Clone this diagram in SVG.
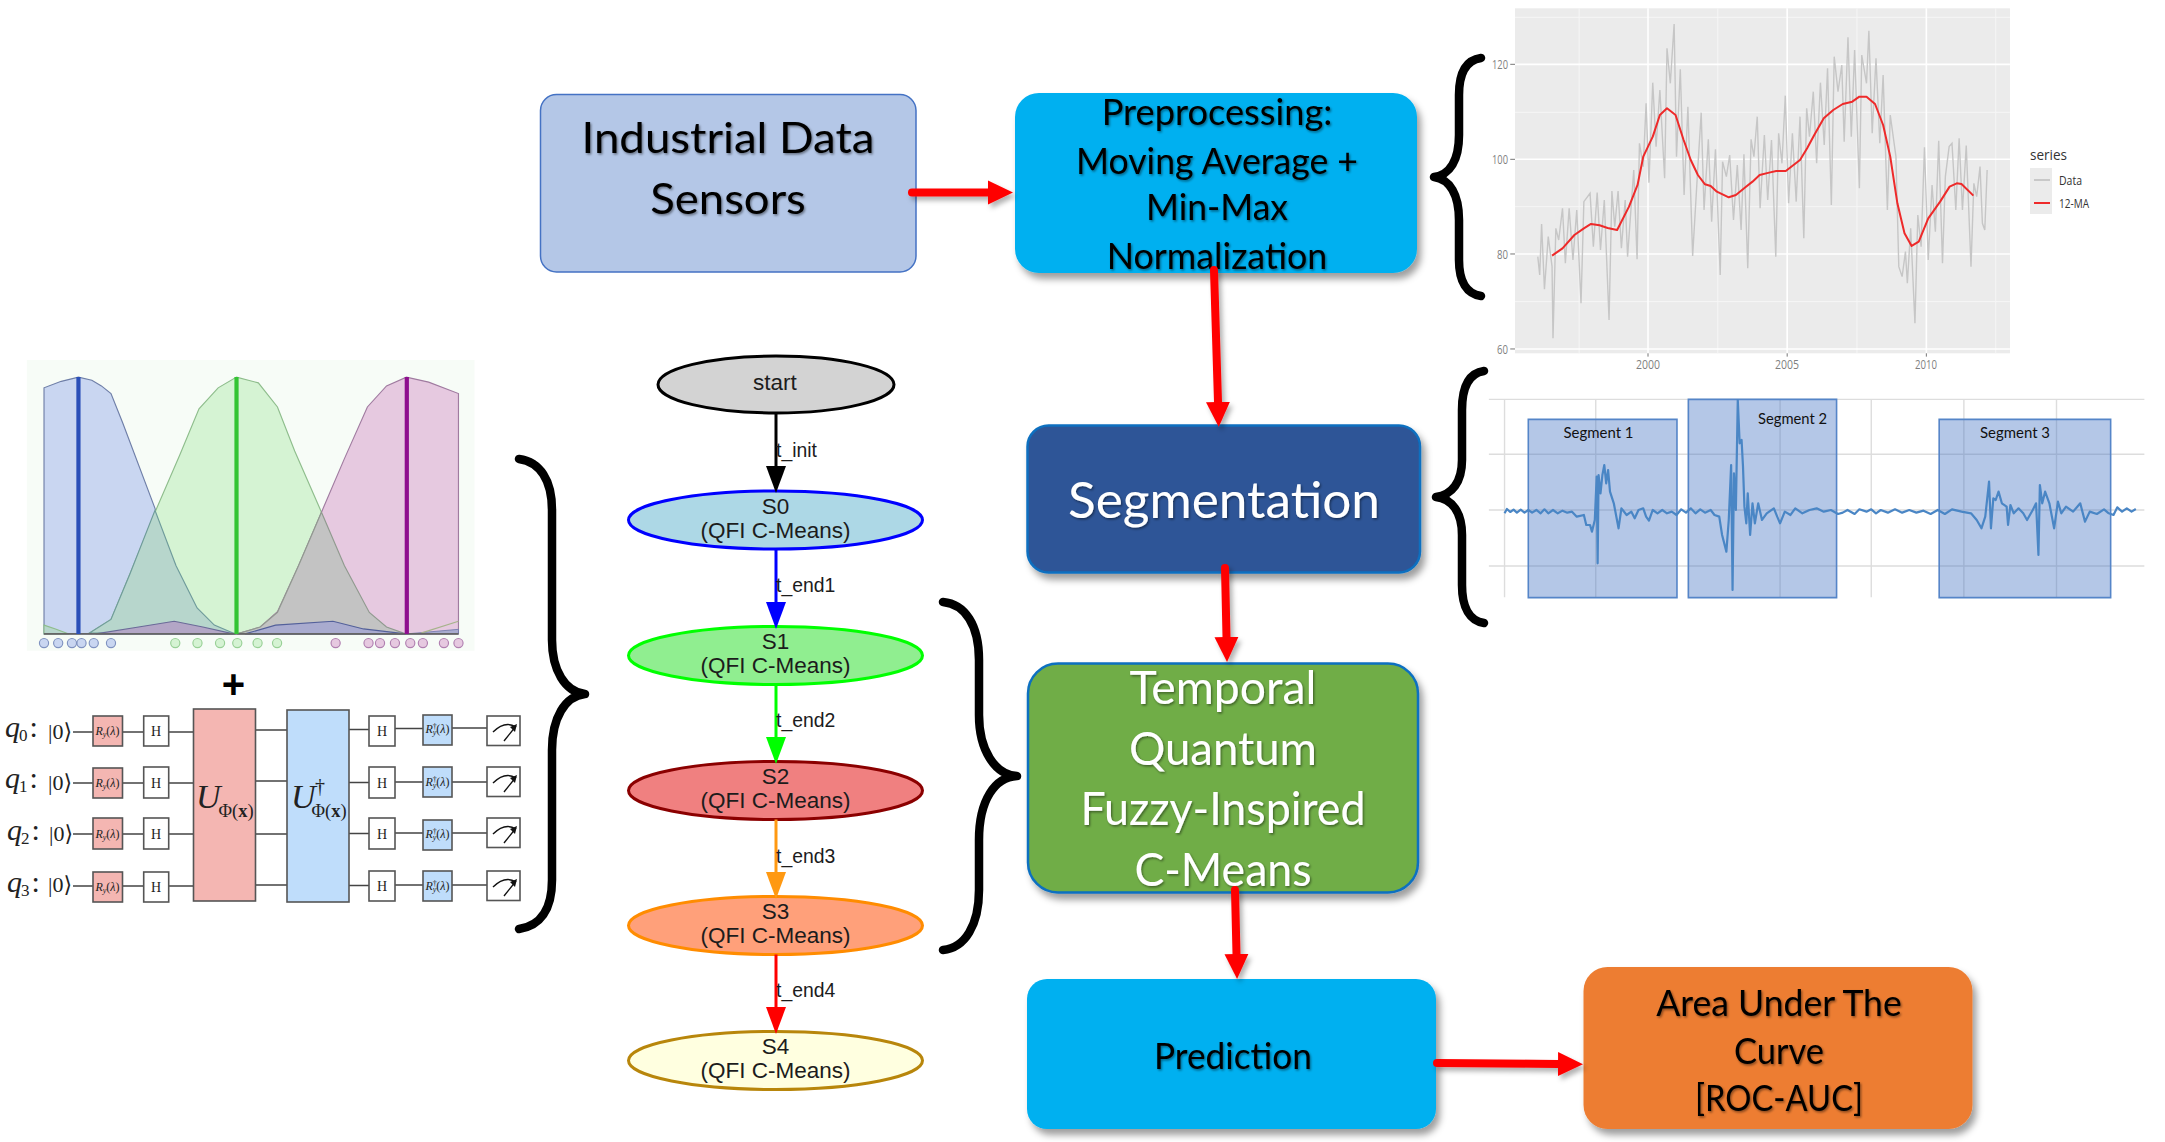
<svg xmlns="http://www.w3.org/2000/svg" width="2165" height="1142" viewBox="0 0 2165 1142">
<defs>
<style>
svg{font-family:"Liberation Sans",Arial,sans-serif}
.box{font-family:Lato,"Liberation Sans",sans-serif;text-anchor:middle;fill:#000}
.w{fill:#fff}
.st{font-size:22.500px;text-anchor:middle;fill:#1c1c1c}
.el{font-size:19.400px;fill:#1c1c1c}
.brace{fill:none;stroke:#000;stroke-width:8.500;stroke-linecap:round;stroke-linejoin:round}
.red{fill:none;stroke:#f00;stroke-width:8;stroke-linecap:round;marker-end:url(#mr)}
.edge{fill:none;stroke-width:3}
.ns{vector-effect:non-scaling-stroke}
.wire{stroke:#444;stroke-width:1.500;fill:none}
.gate{stroke:#555;stroke-width:1.600}
.pk{fill:#f4b6b2}.bl{fill:#bfddfb}.wh{fill:#fff}
.ser{font-family:"Liberation Serif","DejaVu Serif",serif;fill:#222}
.ax{font-family:"Open Sans","Liberation Sans",sans-serif;font-size:12px;fill:#7f7f7f}
.gmaj{stroke:#fff;stroke-width:1.600;fill:none}
.gmin{stroke:#f6f6f6;stroke-width:1;fill:none}
.sgrid{stroke:#ddd;stroke-width:1.400;fill:none}
.seg{fill:#4472c4;fill-opacity:.4;stroke:#5585c8;stroke-width:1.600}
.segt{font-family:Lato,"Liberation Sans",sans-serif;font-size:15px;text-anchor:middle;fill:#111}
.dot{stroke-width:3}
</style>
<filter id="sh" x="-10%" y="-10%" width="125%" height="130%"><feDropShadow dx="4" dy="6" stdDeviation="3.500" flood-color="#000" flood-opacity=".38"/></filter>
<filter id="ash" x="-40%" y="-40%" width="200%" height="200%"><feDropShadow dx="3" dy="4" stdDeviation="2.500" flood-color="#000" flood-opacity=".3"/></filter>
<filter id="ts" x="-5%" y="-10%" width="110%" height="125%"><feDropShadow dx="1.200" dy="1.500" stdDeviation=".8" flood-color="#000" flood-opacity=".45"/></filter>
<marker id="mr" markerUnits="userSpaceOnUse" markerWidth="27" markerHeight="26" refX="0" refY="13" orient="auto"><path d="M0,1 25,13 0,25Z" fill="#f00"/></marker>
<marker id="mk" markerUnits="userSpaceOnUse" markerWidth="28" markerHeight="22" refX="0" refY="11" orient="auto"><path d="M0,1 27,11 0,21Z" fill="#000"/></marker>
<marker id="mb" markerUnits="userSpaceOnUse" markerWidth="28" markerHeight="22" refX="0" refY="11" orient="auto"><path d="M0,1 27,11 0,21Z" fill="#00f"/></marker>
<marker id="mg" markerUnits="userSpaceOnUse" markerWidth="28" markerHeight="22" refX="0" refY="11" orient="auto"><path d="M0,1 27,11 0,21Z" fill="#0f0"/></marker>
<marker id="mo" markerUnits="userSpaceOnUse" markerWidth="28" markerHeight="22" refX="0" refY="11" orient="auto"><path d="M0,1 27,11 0,21Z" fill="#ff9912"/></marker>
<marker id="mf" markerUnits="userSpaceOnUse" markerWidth="28" markerHeight="22" refX="0" refY="11" orient="auto"><path d="M0,1 27,11 0,21Z" fill="#f00"/></marker>
</defs>
<rect width="2165" height="1142" fill="#fff"/>

<!-- fuzzy membership plot -->
<g id="fuzzy-plot">
<g transform="translate(0,340) scale(.3827)">
<rect x="70" y="52" width="1170" height="760" fill="#f7fcf7"/>
<path d="M115,768V125L160,108 205,97 240,105 265,120 290,140 320,215 405,440 460,590 515,700 560,745 615,768Z" fill="#c9d6f1" stroke="#6f7fa8" stroke-width="3"/>
<path d="M235,765 290,730 340,610 405,450 470,300 520,180 570,125 618,97 675,112 725,175 770,290 840,450 900,590 965,710 1010,750 1060,768Z" fill="#d5f3d3" stroke="#8ebd8c" stroke-width="3"/>
<path d="M620,768 680,750 725,710 780,590 840,450 900,310 960,175 1010,120 1062,97 1120,110 1198,140V768Z" fill="#e6c9e0" stroke="#a07ba0" stroke-width="3"/>
<path d="M235,765 290,730 340,610 405,445 460,590 515,700 560,745 615,768Z" fill="#b7d6cc" stroke="#6f9b9b" stroke-width="3"/>
<path d="M620,768 680,750 725,712 780,590 840,450 900,590 965,712 1010,750 1060,768Z" fill="#c3c3c3" stroke="#909a8f" stroke-width="3"/>
<path d="M115,745 145,755 180,768H115Z" fill="#b7d6cc" stroke="#8ebd8c" stroke-width="3"/>
<path d="M250,768 350,752 455,735 530,750 610,768Z" fill="#b3a6c6" stroke="#6a6a98" stroke-width="3"/>
<path d="M640,768 720,745 870,735 950,755 1060,768Z" fill="#a9abcf" stroke="#53609a" stroke-width="3"/>
<path d="M1062,768 1198,756V768Z" fill="#a9abcf" stroke="#6a72a8" stroke-width="2"/>
<path d="M1100,766 1198,735" fill="none" stroke="#a6b38a" stroke-width="3"/>
<path d="M115,768H1198" stroke="#666" stroke-width="5"/>
<path d="M205,97V768" stroke="#2a4fb8" stroke-width="11"/>
<path d="M618,97V768" stroke="#33c433" stroke-width="11"/>
<path d="M1063,97V768" stroke="#8e0f8e" stroke-width="11"/>
<g fill="#c9d6f1" stroke="#7f92c0" class="dot"><circle cx="115" cy="792" r="12"/><circle cx="152" cy="792" r="12"/><circle cx="188" cy="792" r="12"/><circle cx="213" cy="792" r="12"/><circle cx="245" cy="792" r="12"/><circle cx="290" cy="792" r="12"/></g>
<g fill="#d5f3d3" stroke="#98d096" class="dot"><circle cx="458" cy="792" r="12"/><circle cx="516" cy="792" r="12"/><circle cx="575" cy="792" r="12"/><circle cx="620" cy="792" r="12"/><circle cx="673" cy="792" r="12"/><circle cx="724" cy="792" r="12"/></g>
<g fill="#e6c9e0" stroke="#b07fb0" class="dot"><circle cx="877" cy="792" r="12"/><circle cx="963" cy="792" r="12"/><circle cx="993" cy="792" r="12"/><circle cx="1032" cy="792" r="12"/><circle cx="1072" cy="792" r="12"/><circle cx="1105" cy="792" r="12"/><circle cx="1160" cy="792" r="12"/><circle cx="1198" cy="792" r="12"/></g>
</g>
<text x="233.500" y="698" font-size="40" font-weight="bold" text-anchor="middle">+</text>
</g>

<!-- quantum circuit -->
<g id="quantum-circuit">
<g class="wire">
<path d="M73,732H193M73,783H193M73,834H193M73,886H193"/>
<path d="M255,730H287M255,781H287M255,834H287M255,885H287"/>
<path d="M349,729.500H369M395,728.500H423M452,728H487M349,782.500H369M395,782H423M452,782H487M349,833.500H369M395,833H423M452,833H487M349,885.500H369M395,885H423M452,885H487"/>
</g>
<g class="gate">
<rect class="pk" x="93" y="716" width="29.500" height="30"/><rect class="pk" x="93" y="768" width="29.500" height="30"/><rect class="pk" x="93" y="818" width="29.500" height="31"/><rect class="pk" x="93" y="872" width="29.500" height="30"/>
<rect class="wh" x="143.700" y="716" width="25" height="30"/><rect class="wh" x="143.700" y="767" width="25" height="31"/><rect class="wh" x="143.700" y="818" width="25" height="31"/><rect class="wh" x="143.700" y="872" width="25" height="30"/>
<rect class="pk" x="193.500" y="709" width="62" height="192"/>
<rect class="bl" x="287" y="710" width="62" height="192"/>
<rect class="wh" x="369" y="716" width="26" height="30"/><rect class="wh" x="369" y="767" width="26" height="31"/><rect class="wh" x="369" y="818" width="26" height="31"/><rect class="wh" x="369" y="871" width="26" height="30"/>
<rect class="bl" x="423" y="715" width="29" height="30"/><rect class="bl" x="423" y="767" width="29" height="30"/><rect class="bl" x="423" y="820" width="29" height="30"/><rect class="bl" x="423" y="871" width="29" height="30"/>
<rect class="wh" x="487" y="716" width="33" height="29.500"/><rect class="wh" x="487" y="767" width="33" height="29.500"/><rect class="wh" x="487" y="818" width="33" height="29.500"/><rect class="wh" x="487" y="871" width="33" height="29.500"/>
</g>
<g fill="none" stroke="#111" stroke-width="1.400">
<path d="M493,732Q505,720 516,727M504,741 516,726"/>
<path d="M493,783Q505,771 516,778M504,792 516,777"/>
<path d="M493,834Q505,822 516,829M504,843 516,828"/>
<path d="M493,887Q505,875 516,882M504,896 516,881"/>
</g>
<g fill="#111"><path d="M510,727 517,724 515,732Z"/><path d="M510,778 517,775 515,783Z"/><path d="M510,829 517,826 515,834Z"/><path d="M510,882 517,879 515,887Z"/></g>
<g class="ser" font-size="30" font-style="italic">
<text x="5" y="737">q<tspan font-size="17" font-style="normal" dx="-1" dy="4">0</tspan><tspan font-style="normal" dx="2" dy="-4">:</tspan></text>
<text x="5" y="788">q<tspan font-size="17" font-style="normal" dx="-1" dy="4">1</tspan><tspan font-style="normal" dx="2" dy="-4">:</tspan></text>
<text x="7" y="840">q<tspan font-size="17" font-style="normal" dx="-1" dy="4">2</tspan><tspan font-style="normal" dx="2" dy="-4">:</tspan></text>
<text x="7" y="892">q<tspan font-size="17" font-style="normal" dx="-1" dy="4">3</tspan><tspan font-style="normal" dx="2" dy="-4">:</tspan></text>
</g>
<g class="ser" font-size="22">
<text x="48" y="739">|0⟩</text><text x="48" y="790">|0⟩</text><text x="49" y="841">|0⟩</text><text x="48" y="892">|0⟩</text>
</g>
<g class="ser" font-size="12" text-anchor="middle">
<text x="107.500" y="735"><tspan font-style="italic">R</tspan><tspan font-size="8" dy="2" font-style="italic">y</tspan><tspan dy="-2">(</tspan><tspan font-style="italic">λ</tspan>)</text>
<text x="107.500" y="787"><tspan font-style="italic">R</tspan><tspan font-size="8" dy="2" font-style="italic">y</tspan><tspan dy="-2">(</tspan><tspan font-style="italic">λ</tspan>)</text>
<text x="107.500" y="838"><tspan font-style="italic">R</tspan><tspan font-size="8" dy="2" font-style="italic">y</tspan><tspan dy="-2">(</tspan><tspan font-style="italic">λ</tspan>)</text>
<text x="107.500" y="891"><tspan font-style="italic">R</tspan><tspan font-size="8" dy="2" font-style="italic">y</tspan><tspan dy="-2">(</tspan><tspan font-style="italic">λ</tspan>)</text>
<text x="437.500" y="733"><tspan font-style="italic">R</tspan><tspan font-size="8" dy="-4">†</tspan><tspan font-size="8" dx="-4" dy="6" font-style="italic">y</tspan><tspan dy="-2">(</tspan><tspan font-style="italic">λ</tspan>)</text>
<text x="437.500" y="786"><tspan font-style="italic">R</tspan><tspan font-size="8" dy="-4">†</tspan><tspan font-size="8" dx="-4" dy="6" font-style="italic">y</tspan><tspan dy="-2">(</tspan><tspan font-style="italic">λ</tspan>)</text>
<text x="437.500" y="838"><tspan font-style="italic">R</tspan><tspan font-size="8" dy="-4">†</tspan><tspan font-size="8" dx="-4" dy="6" font-style="italic">y</tspan><tspan dy="-2">(</tspan><tspan font-style="italic">λ</tspan>)</text>
<text x="437.500" y="890"><tspan font-style="italic">R</tspan><tspan font-size="8" dy="-4">†</tspan><tspan font-size="8" dx="-4" dy="6" font-style="italic">y</tspan><tspan dy="-2">(</tspan><tspan font-style="italic">λ</tspan>)</text>
</g>
<g class="ser" font-size="14" text-anchor="middle">
<text x="156" y="736">H</text><text x="156" y="788">H</text><text x="156" y="839">H</text><text x="156" y="892">H</text>
<text x="382" y="736">H</text><text x="382" y="788">H</text><text x="382" y="839">H</text><text x="382" y="891">H</text>
</g>
<g class="ser">
<text x="196" y="808" font-size="34" font-style="italic">U</text>
<text x="218.500" y="817" font-size="18.500">Φ(<tspan font-weight="bold">x</tspan>)</text>
<text x="291" y="808" font-size="34" font-style="italic">U</text>
<text x="315" y="793" font-size="20">†</text>
<text x="311.500" y="817" font-size="18.500">Φ(<tspan font-weight="bold">x</tspan>)</text>
</g>
</g>

<!-- data chart -->
<g id="ma-chart">
<g transform="translate(1420,0) scale(.475,.3333)">
<rect x="200" y="25" width="1042" height="1035" fill="#ebebeb"/>
<path class="gmin ns" d="M200,52H1242M200,337H1242M200,620H1242M200,905H1242M335,25V1060M627,25V1060M920,25V1060M1212,25V1060"/>
<path class="gmaj ns" d="M200,193H1242M200,478H1242M200,762H1242M200,1047H1242M480,25V1060M773,25V1060M1066,25V1060"/>
<path class="ns" fill="none" stroke="#777" stroke-width="1" d="M190,193H200M190,478H200M190,762H200M190,1047H200M480,1060V1070M773,1060V1070M1066,1060V1070"/>
<polyline class="ns" fill="none" stroke="#c6c6c6" stroke-width="1.400" points="248,770 252,825 256,672 262,868 270,710 278,800 280,1015 286,685 292,720 300,625 306,790 314,625 322,780 330,630 339,910 345,605 358,580 365,740 373,578 380,750 388,600 398,960 404,573 410,680 417,573 424,745 432,600 437,770 450,510 457,778 462,430 470,500 476,310 482,548 490,248 497,440 505,270 515,535 520,145 527,250 535,72 540,470 548,208 556,585 564,320 574,768 585,500 592,338 598,630 607,418 614,665 622,448 632,825 637,485 645,530 652,465 660,660 668,495 676,690 682,463 690,805 697,418 703,470 710,350 716,625 725,405 732,600 740,420 749,770 755,400 762,490 769,287 776,610 784,400 792,605 800,350 808,715 814,325 820,410 828,275 835,490 843,248 851,435 858,205 866,615 872,170 880,275 888,195 893,425 901,112 908,410 915,150 925,565 930,165 940,250 945,92 952,400 960,175 968,430 975,225 984,630 990,345 1002,470 1008,800 1015,830 1022,755 1026,850 1033,685 1042,970 1048,645 1055,740 1062,442 1070,780 1078,555 1085,695 1092,422 1100,790 1106,530 1114,440 1120,430 1128,630 1135,415 1142,630 1150,437 1160,800 1166,550 1172,590 1179,500 1184,670 1189,690 1194,510"/>
<polyline class="ns" fill="none" stroke="#ee2a2a" stroke-width="2" stroke-linejoin="round" points="278,767 300,745 325,705 345,685 360,672 378,676 395,684 415,690 440,620 458,555 470,470 490,410 505,345 520,325 538,345 555,420 570,480 585,525 600,553 612,558 625,575 650,592 665,585 685,562 700,545 715,525 735,518 750,513 770,513 800,480 815,445 830,405 850,355 870,330 890,312 910,305 925,290 940,290 958,312 975,375 990,470 1005,610 1020,700 1035,738 1050,725 1070,655 1095,605 1115,560 1130,550 1140,552 1165,587"/>
</g>
<g class="ax" text-anchor="end"><text x="1508" y="69" textLength="16" lengthAdjust="spacingAndGlyphs">120</text><text x="1508" y="164" textLength="16" lengthAdjust="spacingAndGlyphs">100</text><text x="1508" y="259" textLength="11" lengthAdjust="spacingAndGlyphs">80</text><text x="1508" y="354" textLength="11" lengthAdjust="spacingAndGlyphs">60</text></g>
<g class="ax" text-anchor="middle"><text x="1648" y="369" textLength="24" lengthAdjust="spacingAndGlyphs">2000</text><text x="1787" y="369" textLength="24" lengthAdjust="spacingAndGlyphs">2005</text><text x="1926" y="369" textLength="22" lengthAdjust="spacingAndGlyphs">2010</text></g>
<text x="2030" y="160" font-size="15" fill="#333" textLength="37" lengthAdjust="spacingAndGlyphs" style="font-family:'Open Sans',sans-serif">series</text>
<rect x="2030" y="168" width="22" height="46" fill="#ebebeb"/>
<path d="M2034,180H2050" stroke="#bdbdbd" stroke-width="1.500"/>
<path d="M2034,203H2050" stroke="#ee2a2a" stroke-width="2"/>
<text x="2059" y="185" font-size="12.500" fill="#333" textLength="23" lengthAdjust="spacingAndGlyphs" style="font-family:'Open Sans',sans-serif">Data</text>
<text x="2059" y="208" font-size="12.500" fill="#333" textLength="30" lengthAdjust="spacingAndGlyphs" style="font-family:'Open Sans',sans-serif">12-MA</text>
</g>

<!-- segments chart -->
<g id="segment-chart">
<g transform="translate(1420,360) scale(.475,.3333)">
<path class="sgrid ns" d="M145,118H1525M145,283H1525M145,450H1525M145,618H1525M178,118V712M370,118V712M565,118V712M758,118V712M950,118V712M1145,118V712M1340,118V712"/>
<rect class="seg ns" x="228" y="178" width="313" height="535"/>
<rect class="seg ns" x="565" y="118" width="312" height="595"/>
<rect class="seg ns" x="1093" y="178" width="361" height="535"/>
<polyline class="ns" fill="none" stroke="#4a86c5" stroke-width="2.200" stroke-linejoin="round" points="178,460 183,447 190,456 197,449 204,458 212,449 220,458 228,450 236,458 245,450 254,460 262,448 270,460 280,450 290,460 300,452 310,458 320,455 330,470 345,465 350,495 358,495 362,515 368,480 372,350 374,610 376,345 380,400 384,345 388,315 392,370 396,330 400,395 408,430 418,505 424,445 435,465 445,455 452,475 460,450 470,445 476,470 482,482 490,450 500,460 510,450 520,460 530,455 540,465 550,448 560,458 570,445 580,460 590,448 600,458 612,450 620,465 630,470 636,525 645,575 650,480 655,315 658,690 661,340 665,450 669,120 673,250 677,240 680,320 683,440 687,490 690,400 695,525 700,430 705,490 712,430 720,480 730,460 745,445 752,470 758,490 768,455 780,465 790,445 805,460 820,450 835,445 850,455 865,450 880,462 890,458 900,450 915,462 925,448 940,455 950,448 960,460 970,450 985,458 1000,448 1015,458 1030,450 1045,458 1060,452 1075,462 1090,450 1105,462 1120,448 1140,455 1160,460 1172,480 1182,505 1190,470 1198,365 1202,505 1207,415 1212,420 1218,395 1225,430 1235,440 1238,495 1243,435 1250,460 1260,445 1270,460 1278,480 1290,450 1297,430 1302,585 1305,375 1310,430 1316,395 1325,430 1335,505 1343,425 1350,460 1360,440 1375,455 1390,430 1400,485 1410,455 1425,462 1440,448 1450,460 1460,465 1468,442 1478,455 1488,445 1498,455 1507,447"/>
</g>
<text class="segt" x="1598.500" y="438" textLength="70" lengthAdjust="spacingAndGlyphs">Segment 1</text>
<text class="segt" x="1792.500" y="424" textLength="69" lengthAdjust="spacingAndGlyphs">Segment 2</text>
<text class="segt" x="2015" y="438" textLength="70" lengthAdjust="spacingAndGlyphs">Segment 3</text>
</g>

<!-- process nodes -->
<g id="node-sensors"><rect x="540.500" y="94.500" width="375.500" height="177.500" rx="16" fill="#b4c7e7" stroke="#4472c4" stroke-width="1.500"/>
<g class="box" font-size="42" filter="url(#ts)"><text x="728" y="153" textLength="293" lengthAdjust="spacingAndGlyphs">Industrial Data</text><text x="728" y="214" textLength="155.500" lengthAdjust="spacingAndGlyphs">Sensors</text></g></g>
<g id="node-preprocessing"><rect x="1015" y="93" width="402" height="180" rx="24" fill="#00b0f0" filter="url(#sh)"/>
<g class="box" font-size="36" filter="url(#ts)"><text x="1217" y="125" textLength="230.600" lengthAdjust="spacingAndGlyphs">Preprocessing:</text><text x="1217" y="174" textLength="282" lengthAdjust="spacingAndGlyphs">Moving Average +</text><text x="1217" y="219.500" textLength="142" lengthAdjust="spacingAndGlyphs">Min-Max</text><text x="1217" y="268.500" textLength="220.700" lengthAdjust="spacingAndGlyphs">Normalization</text></g></g>
<g id="node-segmentation"><rect x="1027.500" y="425.500" width="392.500" height="147" rx="21" fill="#2f5597" stroke="#0b6fc0" stroke-width="2.500" filter="url(#sh)"/>
<text class="box w" x="1224" y="518" font-size="50" textLength="312" lengthAdjust="spacingAndGlyphs" filter="url(#ts)">Segmentation</text></g>
<g id="node-qfi"><rect x="1028" y="663.500" width="390" height="229" rx="30" fill="#70ad47" stroke="#0b6fc0" stroke-width="2.500" filter="url(#sh)"/>
<g class="box" style="fill:#fff" font-size="46" filter="url(#ts)"><text x="1223" y="704" textLength="187" lengthAdjust="spacingAndGlyphs">Temporal</text><text x="1223" y="765" textLength="188" lengthAdjust="spacingAndGlyphs">Quantum</text><text x="1223" y="825" textLength="285" lengthAdjust="spacingAndGlyphs">Fuzzy-Inspired</text><text x="1223" y="886" textLength="177" lengthAdjust="spacingAndGlyphs">C-Means</text></g></g>
<g id="node-prediction"><rect x="1027" y="979" width="409" height="150" rx="20" fill="#00b0f0" filter="url(#sh)"/>
<text class="box" x="1233" y="1069" font-size="36" textLength="158" lengthAdjust="spacingAndGlyphs" filter="url(#ts)">Prediction</text></g>
<g id="node-auc"><rect x="1583.500" y="967" width="389" height="162" rx="24" fill="#ed7d31" filter="url(#sh)"/>
<g class="box" font-size="36" filter="url(#ts)"><text x="1779" y="1016" textLength="245.500" lengthAdjust="spacingAndGlyphs">Area Under The</text><text x="1779" y="1064" textLength="90" lengthAdjust="spacingAndGlyphs">Curve</text><text x="1779" y="1111" textLength="168" lengthAdjust="spacingAndGlyphs">[ROC-AUC]</text></g></g>

<!-- state nodes -->
<g id="node-start"><ellipse cx="776" cy="384.500" rx="118" ry="28.500" fill="#d3d3d3" stroke="#000" stroke-width="3"/><text class="st" x="775" y="390">start</text></g>
<g id="node-s0"><ellipse cx="775.500" cy="520" rx="147" ry="29" fill="#add8e6" stroke="#00f" stroke-width="3"/><text class="st" x="775.500" y="514">S0</text><text class="st" x="775.500" y="538">(QFI C-Means)</text></g>
<g id="node-s1"><ellipse cx="775.500" cy="655.500" rx="147" ry="29" fill="#90ee90" stroke="#0f0" stroke-width="3"/><text class="st" x="775.500" y="648.500">S1</text><text class="st" x="775.500" y="672.500">(QFI C-Means)</text></g>
<g id="node-s2"><ellipse cx="775.500" cy="790.500" rx="147" ry="29" fill="#f08080" stroke="#8b0000" stroke-width="3"/><text class="st" x="775.500" y="784">S2</text><text class="st" x="775.500" y="807.500">(QFI C-Means)</text></g>
<g id="node-s3"><ellipse cx="775.500" cy="925.500" rx="147" ry="29" fill="#ffa07a" stroke="#ff8c00" stroke-width="3"/><text class="st" x="775.500" y="919">S3</text><text class="st" x="775.500" y="943">(QFI C-Means)</text></g>
<g id="node-s4"><ellipse cx="775.500" cy="1060.500" rx="147" ry="29" fill="#ffffe0" stroke="#b8860b" stroke-width="3"/><text class="st" x="775.500" y="1054">S4</text><text class="st" x="775.500" y="1078">(QFI C-Means)</text></g>

<!-- connectors -->
<g id="connectors">
<g filter="url(#ash)">
<path class="red" d="M912,192.500H988"/>
<path class="red" d="M1214,270 1218,402"/>
<path class="red" d="M1225,568 1226.500,637"/>
<path class="red" d="M1235,890 1236.500,954"/>
<path class="red" d="M1437,1063 1558,1064"/>
</g>
<path class="edge" stroke="#000" marker-end="url(#mk)" d="M776,413V466"/>
<path class="edge" stroke="#00f" marker-end="url(#mb)" d="M776,549V602"/>
<path class="edge" stroke="#0f0" marker-end="url(#mg)" d="M776,684.500V737"/>
<path class="edge" stroke="#ff9912" marker-end="url(#mo)" d="M776,819.500V872"/>
<path class="edge" stroke="#f00" marker-end="url(#mf)" d="M776,954.500V1007"/>
<text class="el" x="776" y="457">t_init</text>
<text class="el" x="776" y="592">t_end1</text>
<text class="el" x="776" y="727">t_end2</text>
<text class="el" x="776" y="863">t_end3</text>
<text class="el" x="776" y="997">t_end4</text>
</g>

<!-- braces -->
<g id="braces">
<path class="brace" d="M519,459C540,462 552,480 552,510V640C552,670 565,692 585,694C565,696 552,718 552,750V880C552,910 540,926 519,929"/>
<path class="brace" d="M943,602C965,604 979,625 979,660V715C979,750 995,775 1017,776C995,777 979,800 979,840V890C979,925 965,948 943,950"/>
<path class="brace" d="M1481,58C1467,60 1459,72 1459,95V135C1459,160 1450,175 1434,177C1450,179 1459,195 1459,220V260C1459,282 1467,294 1481,296"/>
<path class="brace" d="M1484,371C1470,373 1462,385 1462,410V460C1462,482 1452,495 1436,497C1452,499 1462,512 1462,535V585C1462,608 1470,621 1484,623"/>
</g>
</svg>
